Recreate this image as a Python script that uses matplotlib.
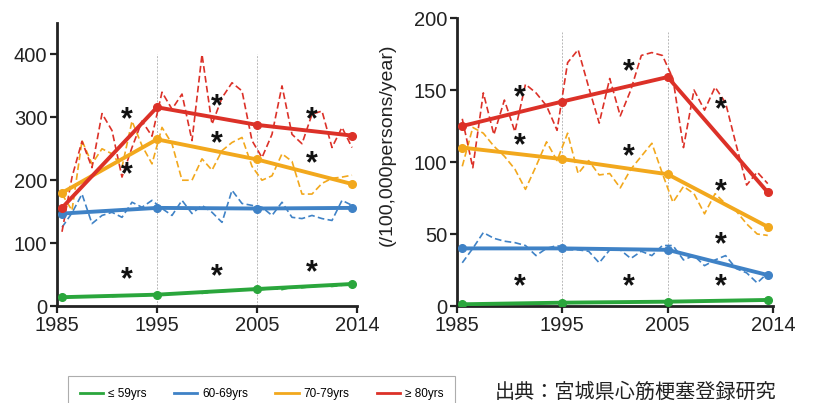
import matplotlib
matplotlib.use("Agg")
import matplotlib.pyplot as plt
from matplotlib.lines import Line2D
from matplotlib.transforms import offset_copy

plt.rcParams['font.family'] = ['Liberation Sans', 'DejaVu Sans']

years = list(range(1985, 2015))
joint_years = [1985.5, 1995, 2005, 2014.5]
tick_pos = [1985, 1995, 2005, 2015]
tick_labels = ["1985", "1995", "2005", "2014"]

# left panel, annual rates
red_a = [118, 205, 262, 220, 306, 279, 205, 252, 294, 270, 340, 313, 337, 263, 400,
         289, 331, 355, 342, 263, 236, 273, 350, 273, 258, 305, 310, 252, 284, 252]
orange_a = [178, 152, 263, 226, 250, 242, 221, 294, 255, 226, 284, 258, 200, 200, 234,
            216, 247, 260, 268, 222, 200, 207, 242, 230, 178, 178, 195, 203, 205, 208]
blue_a = [125, 148, 178, 131, 144, 149, 141, 165, 157, 168, 155, 144, 168, 147, 160,
          149, 133, 184, 163, 160, 157, 144, 165, 141, 139, 144, 139, 136, 168, 160]
green_a = [13, 14, 16, 15, 16, 15, 16, 17, 16, 18, 18, 19, 20, 21, 20,
           22, 23, 24, 26, 25, 26, 28, 26, 30, 29, 31, 32, 31, 33, 35]
# left panel, joinpoint fits
red_fit_a = [156, 316, 288, 271]
orange_fit_a = [180, 265, 233, 194]
blue_fit_a = [147, 156, 155, 156]
green_fit_a = [14, 18, 27, 35]

# right panel, annual rates
red_b = [130, 96, 148, 119, 143, 121, 154, 148, 139, 122, 169, 178, 152, 127, 158,
         132, 150, 174, 176, 174, 158, 110, 150, 136, 152, 141, 112, 84, 93, 85]
orange_b = [97, 124, 120, 111, 104, 95, 81, 97, 114, 101, 120, 92, 101, 91, 92,
            82, 95, 104, 113, 92, 72, 83, 78, 64, 78, 71, 66, 57, 50, 49]
blue_b = [30, 40, 51, 47, 45, 44, 42, 35, 40, 42, 39, 39, 38, 30, 39,
          39, 33, 38, 35, 42, 42, 32, 35, 28, 32, 35, 26, 23, 16, 23]
green_b = [1.0, 1.2, 1.3, 1.5, 1.4, 1.6, 1.8, 1.7, 2.0, 2.1, 2.3, 2.2, 2.4, 2.5, 2.3,
           2.6, 2.8, 2.7, 3.0, 3.1, 3.0, 3.2, 3.3, 3.5, 3.4, 3.6, 3.8, 3.9, 4.0, 4.2]
red_fit_b = [125, 142, 159, 79]
orange_fit_b = [110, 102, 91.5, 55]
blue_fit_b = [40, 40, 39, 21.5]
green_fit_b = [1.2, 2.3, 3.0, 4.2]

# significance marks
stars_a = [(1992, 302), (1992, 215), (1992, 47),
           (2001, 323), (2001, 264), (2001, 53),
           (2010.5, 302), (2010.5, 232), (2010.5, 58)]
stars_b = [(1991, 147), (1991, 114), (1991, 16),
           (2001.3, 165), (2001.3, 106), (2001.3, 16),
           (2010, 139), (2010, 82), (2010, 45), (2010, 16)]

labels = ["≤ 59yrs", "60-69yrs", "70-79yrs", "≥ 80yrs"]
colors = ["#2aa63c", "#3f82c6", "#f2a81d", "#dc3128"]

fig = plt.figure(figsize=(8.13, 4.03), dpi=100)
ax_a = fig.add_axes([57 / 813, 1 - 306 / 403, 300 / 813, 283 / 403])
ax_b = fig.add_axes([457 / 813, 1 - 306 / 403, 316 / 813, 288 / 403])


def draw_panel(ax, annual, fits, stars, ymax, yticks, vtop):
    mid = [y + 0.5 for y in years]
    for x in [1995, 2005]:
        ax.vlines(x, 0, vtop, colors="#b8b8b8", linestyles=(0, (2, 1.5)), lw=0.7, zorder=1)
    for vals, fit, c in zip(annual, fits, colors):
        ax.plot(mid, vals, color=c, lw=1.2, ls=(0, (4, 2)), zorder=2)
        ax.plot(joint_years, fit, color=c, lw=2.8, marker="o", ms=5.5, zorder=3)
    # the asterisk glyph sits high in its box, nudge it down a little
    star_tr = offset_copy(ax.transData, fig=fig, y=-3, units="points")
    for x, y in stars:
        ax.text(x, y, "*", fontsize=22, fontweight="bold", ha="center", va="center",
                color="#111", zorder=4, transform=star_tr)
    ax.set_xlim(1985, 2015)
    ax.set_ylim(0, ymax)
    ax.set_xticks(tick_pos)
    ax.set_xticklabels(tick_labels)
    ax.set_yticks(yticks)
    for s in ["top", "right"]:
        ax.spines[s].set_visible(False)
    for s in ["left", "bottom"]:
        ax.spines[s].set_linewidth(2)
        ax.spines[s].set_color("#222")
    ax.tick_params(labelsize=14.5, width=1.6, length=5, colors="#222", pad=2)
    ax.patch.set_alpha(0)


draw_panel(ax_a, [green_a, blue_a, orange_a, red_a],
           [green_fit_a, blue_fit_a, orange_fit_a, red_fit_a],
           stars_a, 450, [0, 100, 200, 300, 400], 400)
draw_panel(ax_b, [green_b, blue_b, orange_b, red_b],
           [green_fit_b, blue_fit_b, orange_fit_b, red_fit_b],
           stars_b, 200, [0, 50, 100, 150, 200], 190)

fig.text(387 / 813, 1 - 145 / 403, "(/100,000persons/year)", rotation=90,
         fontsize=14, ha="center", va="center", color="#222")

handles = [Line2D([], [], color=c, lw=2) for c in colors]
leg = fig.legend(handles, labels, loc="upper left", bbox_to_anchor=(68 / 813, 1 - 376 / 403),
                 ncol=4, frameon=True, fancybox=False, edgecolor="#999",
                 handlelength=2.0, columnspacing=2.3, borderpad=1.0, handletextpad=0.4,
                 borderaxespad=0,
                 prop={"family": ["Liberation Sans Narrow", "Liberation Sans"], "size": 8.5})
leg.get_frame().set_linewidth(0.8)

fig.text(495 / 813, 1 - 392 / 403, "出典：宮城県心筋梗塞登録研究", fontsize=14.5,
         ha="left", va="center", color="#222",
         family=["Noto Sans CJK JP", "DejaVu Sans"])

fig.savefig("out.png", dpi=100)
